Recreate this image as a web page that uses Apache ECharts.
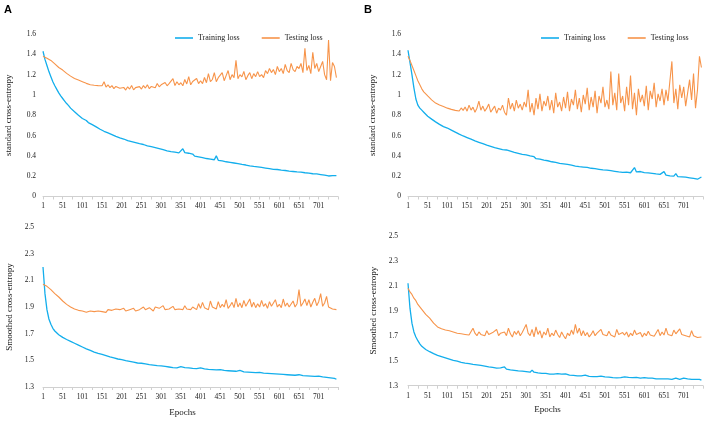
<!DOCTYPE html>
<html><head><meta charset="utf-8">
<script src="https://cdn.jsdelivr.net/npm/echarts@6/dist/echarts.min.js"></script>
<style>html,body{margin:0;padding:0;background:#fff}#c{width:708px;height:424px}</style>
</head><body><div id="c"></div>
<script>
// sample spacing in epochs (values read every 5 epochs, epoch 1 first)
const STEP = 5;
const epochTickLabels = ['1','51','101','151','201','251','301','351','401','451','501','551','601','651','701'];
const stdTicks = [0,0.2,0.4,0.6,0.8,1,1.2,1.4,1.6];
const smoothTicks = [1.3,1.5,1.7,1.9,2.1,2.3,2.5];

// Panel A, standard cross-entropy
const trainA = [
1.43,1.35,1.29,1.23,1.18,1.13,1.09,1.055,1.02,0.99,
0.965,0.94,0.915,0.895,0.87,0.86,0.835,0.825,0.80,0.795,
0.768,0.752,0.748,0.728,0.722,0.708,0.704,0.686,0.68,0.662,
0.662,0.642,0.646,0.626,0.63,0.61,0.612,0.592,0.598,0.578,
0.58,0.566,0.568,0.55,0.558,0.54,0.548,0.53,0.54,0.52,
0.528,0.512,0.518,0.498,0.51,0.49,0.5,0.482,0.49,0.472,
0.48,0.462,0.472,0.45,0.464,0.442,0.452,0.436,0.448,0.43,
0.44,0.47,0.432,0.418,0.426,0.408,0.418,0.398,0.41,0.39,
0.4,0.382,0.394,0.374,0.386,0.368,0.378,0.362,0.4,0.356,
0.37,0.35,0.362,0.342,0.354,0.336,0.348,0.33,0.34,0.324,
0.336,0.316,0.328,0.31,0.322,0.302,0.316,0.296,0.308,0.292,
0.304,0.286,0.298,0.28,0.294,0.274,0.288,0.268,0.282,0.266,
0.278,0.26,0.274,0.256,0.268,0.25,0.264,0.246,0.258,0.242,
0.258,0.24,0.252,0.234,0.248,0.23,0.244,0.224,0.238,0.222,
0.234,0.216,0.228,0.21,0.222,0.202,0.214,0.206,0.218,0.205];
const testA = [
1.38,1.372,1.362,1.35,1.34,1.325,1.305,1.29,1.27,1.258,
1.245,1.23,1.212,1.2,1.185,1.172,1.162,1.152,1.146,1.138,
1.13,1.122,1.114,1.104,1.1,1.092,1.095,1.083,1.092,1.082,
1.09,1.13,1.078,1.1,1.072,1.092,1.062,1.084,1.07,1.065,
1.058,1.074,1.048,1.08,1.058,1.092,1.05,1.072,1.062,1.082,
1.058,1.092,1.068,1.1,1.062,1.084,1.092,1.07,1.112,1.08,
1.1,1.082,1.122,1.09,1.112,1.098,1.16,1.092,1.13,1.1,
1.12,1.09,1.152,1.108,1.18,1.1,1.132,1.118,1.162,1.112,
1.14,1.112,1.172,1.12,1.21,1.13,1.152,1.22,1.13,1.17,
1.16,1.22,1.14,1.19,1.24,1.15,1.2,1.17,1.34,1.16,
1.2,1.178,1.232,1.15,1.19,1.22,1.16,1.21,1.18,1.23,
1.18,1.2,1.17,1.24,1.21,1.26,1.22,1.25,1.2,1.28,
1.23,1.26,1.21,1.3,1.24,1.22,1.31,1.25,1.23,1.28,
1.26,1.31,1.22,1.46,1.24,1.29,1.21,1.42,1.26,1.31,
1.23,1.28,1.33,1.2,1.15,1.54,1.14,1.32,1.28,1.17];

// Panel B, standard cross-entropy
const trainB = [
1.44,1.32,1.2,1.07,0.96,0.9,0.87,0.85,0.83,0.812,
0.79,0.782,0.762,0.755,0.735,0.728,0.71,0.705,0.688,0.682,
0.674,0.658,0.654,0.638,0.634,0.618,0.614,0.598,0.596,0.58,
0.58,0.564,0.564,0.548,0.548,0.534,0.534,0.52,0.52,0.506,
0.506,0.512,0.494,0.482,0.482,0.47,0.472,0.46,0.462,0.45,
0.458,0.442,0.446,0.432,0.434,0.422,0.424,0.412,0.414,0.402,
0.41,0.396,0.4,0.384,0.392,0.372,0.38,0.368,0.37,0.358,
0.366,0.352,0.356,0.342,0.348,0.336,0.34,0.326,0.334,0.322,
0.33,0.316,0.322,0.308,0.316,0.3,0.31,0.294,0.304,0.29,
0.302,0.286,0.292,0.278,0.288,0.274,0.282,0.268,0.276,0.262,
0.274,0.26,0.268,0.254,0.262,0.248,0.258,0.242,0.252,0.238,
0.254,0.24,0.248,0.234,0.244,0.285,0.242,0.226,0.246,0.228,
0.236,0.222,0.232,0.218,0.228,0.214,0.222,0.208,0.218,0.206,
0.245,0.21,0.218,0.204,0.214,0.2,0.225,0.196,0.206,0.194,
0.204,0.19,0.198,0.184,0.19,0.178,0.186,0.17,0.188,0.192];
const testB = [
1.38,1.34,1.29,1.24,1.19,1.14,1.1,1.06,1.03,1.01,
0.99,0.975,0.952,0.94,0.92,0.908,0.9,0.892,0.886,0.878,
0.87,0.882,0.858,0.872,0.848,0.862,0.842,0.872,0.848,0.882,
0.84,0.9,0.85,0.88,0.83,0.87,0.94,0.85,0.89,0.84,
0.87,0.91,0.83,0.86,0.89,0.82,0.87,0.85,0.9,0.83,
0.8,0.97,0.86,0.92,0.84,0.95,0.87,0.91,0.85,0.93,
0.88,1.05,0.83,0.92,0.8,0.97,0.86,1.01,0.84,0.94,
0.89,0.99,0.85,0.95,0.82,1.02,0.88,0.93,0.84,0.98,
0.87,1.03,0.84,0.96,0.9,1.05,0.86,0.97,0.83,1.0,
0.91,1.07,0.85,0.98,0.88,1.04,0.82,0.99,0.92,1.08,
0.88,0.95,0.86,1.23,0.9,1.02,0.85,1.21,0.92,0.99,
0.84,1.08,0.9,1.19,0.86,1.02,0.8,1.06,0.93,1.0,
0.89,1.09,0.85,1.04,0.96,1.12,0.88,1.01,0.94,1.06,
0.9,1.05,0.94,1.14,1.33,0.92,1.06,0.86,1.1,0.97,
1.08,0.89,1.02,1.15,0.95,1.21,0.87,1.05,1.38,1.27];

// Panel A, smoothed cross-entropy
const trainAs = [
2.2,2.0,1.88,1.81,1.77,1.74,1.72,1.705,1.692,1.682,
1.672,1.664,1.656,1.648,1.642,1.634,1.628,1.622,1.614,1.608,
1.6,1.597,1.586,1.584,1.574,1.572,1.562,1.562,1.552,1.55,
1.545,1.548,1.536,1.534,1.526,1.528,1.518,1.52,1.51,1.512,
1.505,1.508,1.498,1.5,1.492,1.494,1.486,1.488,1.48,1.484,
1.478,1.482,1.474,1.476,1.468,1.472,1.464,1.468,1.46,1.464,
1.458,1.462,1.454,1.458,1.45,1.454,1.446,1.452,1.444,1.448,
1.452,1.442,1.446,1.44,1.444,1.436,1.44,1.434,1.438,1.432,
1.444,1.432,1.436,1.428,1.432,1.426,1.43,1.424,1.428,1.422,
1.43,1.42,1.424,1.418,1.422,1.416,1.42,1.414,1.418,1.412,
1.424,1.41,1.414,1.408,1.412,1.406,1.41,1.404,1.408,1.402,
1.41,1.4,1.404,1.398,1.402,1.396,1.4,1.394,1.398,1.392,
1.396,1.39,1.394,1.388,1.392,1.386,1.39,1.384,1.388,1.382,
1.392,1.382,1.386,1.38,1.384,1.378,1.382,1.376,1.38,1.374,
1.382,1.372,1.376,1.368,1.372,1.364,1.368,1.36,1.364,1.358];
const testAs = [
2.07,2.065,2.055,2.045,2.03,2.015,2.0,1.99,1.975,1.96,
1.945,1.935,1.92,1.91,1.9,1.895,1.885,1.88,1.875,1.88,
1.87,1.875,1.86,1.865,1.87,1.855,1.865,1.86,1.87,1.86,
1.865,1.87,1.86,1.88,1.865,1.875,1.87,1.885,1.87,1.88,
1.875,1.89,1.87,1.885,1.88,1.875,1.89,1.87,1.88,1.88,
1.87,1.9,1.88,1.875,1.895,1.88,1.87,1.9,1.885,1.89,
1.875,1.91,1.88,1.895,1.885,1.87,1.905,1.88,1.895,1.885,
1.9,1.88,1.91,1.885,1.895,1.88,1.9,1.89,1.88,1.925,
1.89,1.935,1.895,1.91,1.88,1.945,1.9,1.915,1.885,1.94,
1.895,1.92,1.9,1.955,1.89,1.91,1.935,1.895,1.965,1.9,
1.93,1.895,1.95,1.905,1.91,1.96,1.9,1.935,1.895,1.925,
1.9,1.95,1.905,1.925,1.89,1.94,1.905,1.91,1.955,1.9,
1.92,1.895,1.96,1.905,1.93,1.9,1.915,1.945,1.9,1.925,
2.03,1.905,1.93,1.96,1.91,1.955,1.9,1.935,1.965,1.91,
1.94,2.0,1.905,1.93,1.98,1.9,1.89,1.885,1.895,1.88];

// Panel B, smoothed cross-entropy
const trainBs = [
2.12,1.92,1.8,1.73,1.69,1.66,1.635,1.615,1.6,1.59,
1.58,1.572,1.562,1.556,1.544,1.542,1.533,1.532,1.522,1.522,
1.515,1.512,1.503,1.502,1.497,1.496,1.488,1.487,1.483,1.481,
1.478,1.477,1.468,1.471,1.463,1.467,1.458,1.462,1.453,1.457,
1.453,1.451,1.447,1.446,1.443,1.441,1.438,1.442,1.433,1.45,
1.433,1.432,1.427,1.431,1.423,1.427,1.418,1.422,1.417,1.416,
1.413,1.421,1.408,1.425,1.408,1.406,1.402,1.407,1.398,1.402,
1.398,1.402,1.393,1.397,1.393,1.39,1.396,1.388,1.392,1.389,
1.394,1.39,1.384,1.391,1.383,1.386,1.379,1.391,1.379,1.382,
1.384,1.38,1.374,1.381,1.373,1.377,1.373,1.37,1.376,1.369,
1.37,1.376,1.368,1.371,1.364,1.371,1.363,1.37,1.364,1.366,
1.37,1.364,1.366,1.36,1.365,1.36,1.366,1.359,1.361,1.371,
1.365,1.36,1.361,1.354,1.36,1.359,1.354,1.361,1.354,1.36,
1.355,1.361,1.354,1.356,1.35,1.356,1.361,1.354,1.35,1.356,
1.36,1.349,1.355,1.349,1.351,1.344,1.35,1.344,1.351,1.345];
const testBs = [
2.08,2.05,2.03,2.0,1.98,1.95,1.93,1.91,1.89,1.87,
1.855,1.84,1.82,1.8,1.785,1.77,1.765,1.755,1.76,1.745,
1.75,1.74,1.745,1.73,1.735,1.72,1.73,1.715,1.725,1.71,
1.72,1.705,1.715,1.76,1.72,1.7,1.73,1.71,1.725,1.7,
1.74,1.71,1.695,1.725,1.71,1.75,1.7,1.72,1.705,1.73,
1.7,1.76,1.715,1.69,1.735,1.71,1.74,1.7,1.725,1.71,
1.79,1.72,1.7,1.75,1.69,1.77,1.71,1.74,1.68,1.73,
1.705,1.76,1.69,1.72,1.7,1.745,1.71,1.685,1.73,1.7,
1.675,1.72,1.7,1.745,1.71,1.79,1.72,1.76,1.7,1.74,
1.7,1.725,1.69,1.71,1.74,1.7,1.72,1.705,1.75,1.71,
1.72,1.7,1.735,1.705,1.72,1.69,1.75,1.71,1.7,1.725,
1.705,1.73,1.69,1.72,1.7,1.745,1.71,1.7,1.725,1.69,
1.72,1.7,1.735,1.705,1.72,1.695,1.71,1.75,1.7,1.73,
1.705,1.76,1.71,1.725,1.7,1.745,1.715,1.7,1.755,1.71,
1.725,1.7,1.715,1.69,1.74,1.7,1.695,1.685,1.7,1.69];

const BLUE = '#13AEEC', ORANGE = '#F7944A';
const FONT = '"Liberation Serif", "Times New Roman", serif';
const toXY = arr => arr.map((v, i) => [i * STEP, v]);

const chart = echarts.init(document.getElementById('c'), null, {renderer: 'canvas'});

function xAx(g, withName, gap) {
  return {
    type: 'value', gridIndex: g, min: 0, max: 749, interval: 25,
    axisLine: {show: true, lineStyle: {color: '#d0d0d0', width: 1}},
    axisTick: {show: true, length: 3, lineStyle: {color: '#d0d0d0'}},
    splitLine: {show: false},
    axisLabel: {
      fontFamily: FONT, fontSize: 7.5, color: '#222', margin: 6,
      formatter: v => { const s = String(Math.round(v) + 1); return epochTickLabels.indexOf(s) >= 0 && v % 50 === 0 ? s : ''; }
    },
    name: withName ? 'Epochs' : '', nameLocation: 'middle', nameGap: gap,
    nameTextStyle: {fontFamily: FONT, fontSize: 9, color: '#222', padding: [0, 16, 0, 0]}
  };
}
function yAx(g, ticks, name, gap, margin) {
  return {
    type: 'value', gridIndex: g, min: ticks[0], max: ticks[ticks.length - 1],
    interval: Math.round((ticks[1] - ticks[0]) * 10) / 10,
    axisLine: {show: false}, axisTick: {show: false}, splitLine: {show: false},
    axisLabel: {fontFamily: FONT, fontSize: 7.5, color: '#222', margin: margin,
      formatter: v => String(Math.round(v * 10) / 10)},
    name: name, nameLocation: 'middle', nameGap: gap,
    nameTextStyle: {fontFamily: FONT, fontSize: 9, color: '#222'}
  };
}
function ln(name, data, xi, color, w) {
  return {
    name: name, type: 'line', xAxisIndex: xi, yAxisIndex: xi, data: toXY(data),
    showSymbol: false, symbol: 'none', animation: false,
    lineStyle: {width: w, color: color}, itemStyle: {color: color}
  };
}
const legendBase = {
  icon: 'rect', itemWidth: 18, itemHeight: 1.6, itemGap: 22, top: 29,
  textStyle: {fontFamily: FONT, fontSize: 8, color: '#222'},
  data: ['Training loss', 'Testing loss'], selectedMode: false
};

chart.setOption({
  backgroundColor: '#fff',
  animation: false,
  grid: [
    {left: 43, top: 34, width: 295, height: 162.5},
    {left: 408, top: 34, width: 295, height: 162.5},
    {left: 43, top: 227, width: 295, height: 160},
    {left: 408, top: 235.7, width: 295, height: 150}
  ],
  legend: [
    Object.assign({}, legendBase, {left: 170}),
    Object.assign({}, legendBase, {left: 536})
  ],
  xAxis: [xAx(0, false, 0), xAx(1, false, 0), xAx(2, true, 21), xAx(3, true, 19)],
  yAxis: [
    yAx(0, stdTicks, 'standard cross-entropy', 30, 7),
    yAx(1, stdTicks, 'standard cross-entropy', 31, 7),
    yAx(2, smoothTicks, 'Smoothed cross-entropy', 29, 9),
    yAx(3, smoothTicks, 'Smoothed cross-entropy', 30, 10)
  ],
  graphic: [
    {type: 'text', left: 4, top: 4, style: {text: 'A', font: 'bold 11px "Liberation Sans", Arial, sans-serif', fill: '#000'}},
    {type: 'text', left: 364, top: 4, style: {text: 'B', font: 'bold 11px "Liberation Sans", Arial, sans-serif', fill: '#000'}}
  ],
  series: [
    ln('Training loss', trainA, 0, BLUE, 1.3), ln('Testing loss', testA, 0, ORANGE, 1.1),
    ln('Training loss', trainB, 1, BLUE, 1.3), ln('Testing loss', testB, 1, ORANGE, 1.1),
    ln('Training loss', trainAs, 2, BLUE, 1.3), ln('Testing loss', testAs, 2, ORANGE, 1.1),
    ln('Training loss', trainBs, 3, BLUE, 1.3), ln('Testing loss', testBs, 3, ORANGE, 1.1)
  ]
});
</script></body></html>
